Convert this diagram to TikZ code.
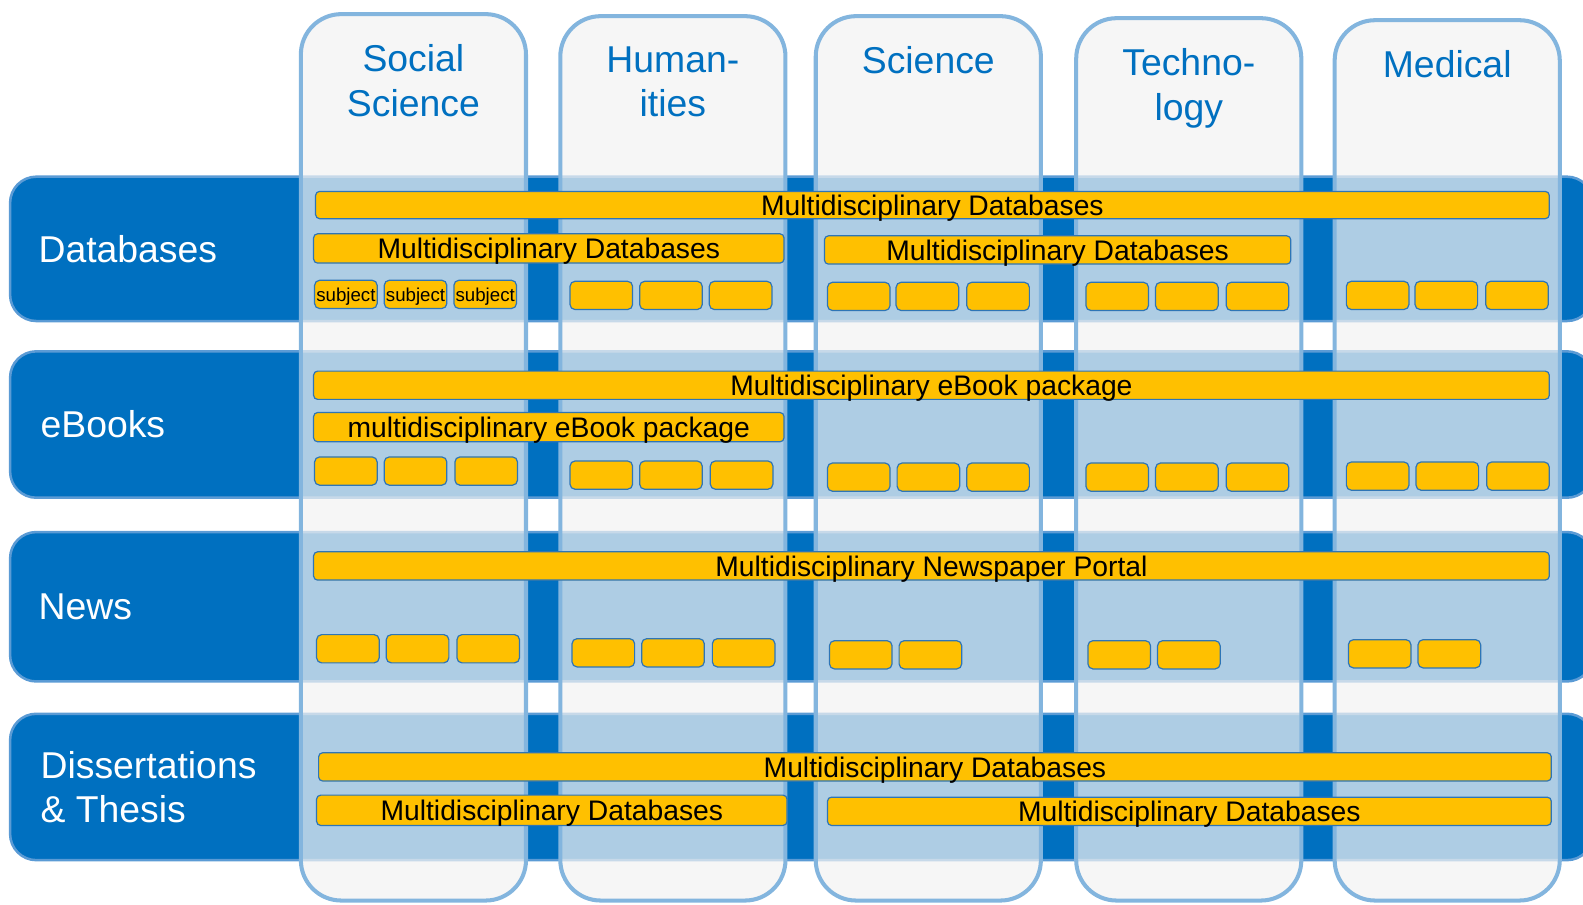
\documentclass[tikz,border=0pt]{standalone}
\usepackage{fontspec}
\setmainfont{Liberation Sans}
\definecolor{rowblue}{RGB}{0,112,192}
\definecolor{rowline}{RGB}{91,155,213}
\definecolor{colline}{RGB}{131,181,222}
\definecolor{colgray}{RGB}{242,242,242}
\definecolor{baryellow}{RGB}{255,192,0}
\definecolor{barline}{RGB}{46,117,182}
\usetikzlibrary{positioning}

\begin{document}
\begin{tikzpicture}[
x=1pt, y=-1pt,
node distance = 28pt,
    band/.style = {draw=rowline, line width=2.5pt, fill=rowblue,
                   rounded corners=26pt, anchor=north west,
                   minimum width=1568pt, minimum height=#1,
                   inner sep=0pt, outer sep=0pt},
  pillar/.style = {draw=colline, line width=4pt, fill=colgray,
                   fill opacity=0.72, draw opacity=1,
                   rounded corners=40pt, anchor=north west,
                   minimum width=223pt, minimum height=#1,
                   inner sep=0pt, outer sep=0pt},
rowlabel/.style = {text=white, font=\fontsize{37}{44}\selectfont,
                   align=left, inner sep=0pt},
collabel/.style = {text=rowblue, font=\fontsize{37}{44}\selectfont,
                   align=center, inner sep=0pt},
     bar/.style = {draw=barline, line width=1.2pt, fill=baryellow,
                   rounded corners=4pt, anchor=north west,
                   minimum width=#1, minimum height=28pt,
                   inner sep=0pt, text depth=0pt,
                   font=\fontsize{28}{32}\selectfont},
    cell/.style = {bar=62pt, rounded corners=5pt},
    subj/.style = {cell, font=\fontsize{18.5}{20}\selectfont}
                    ]
\clip (0,0) rectangle (1568,896);

\node[band=143pt] (dbrow)   at (10,175) {};
\node[band=145pt] (ebrow)   at (10,348) {};
\node[band=148pt] (newsrow) at (10,527) {};
\node[band=145pt] (disrow)  at (10,707) {};

\node[rowlabel, right=28pt of dbrow.west]   {Databases};
\node[rowlabel, right=30pt of ebrow.west]   {eBooks};
\node[rowlabel, right=28pt of newsrow.west] {News};
\node[rowlabel, right=30pt of disrow.west]  {Dissertations\\\& Thesis};

\node[pillar=878pt] (socsci) at (298,14)  {};
\node[pillar=876pt] (human)  at (555,16)  {};
\node[pillar=876pt] (sci)    at (808,16)  {};
\node[pillar=874pt] (tech)   at (1066,18) {};
\node[pillar=872pt] (med)    at (1322,20) {};

\node[collabel, below=30pt of socsci.north] {Social\\Science};
\node[collabel, below=30pt of human.north]  {Human-\\ities};
\node[collabel, below=30pt of sci.north]    {Science};
\node[collabel, below=30pt of tech.north]   {Techno-\\logy};
\node[collabel, below=30pt of med.north]    {Medical};

\node[bar=1222pt, minimum height=27pt] (dball) at (312,189) {Multidisciplinary Databases};
\node[bar=466pt, minimum height=29pt]  (dbleft) at (310,231) {Multidisciplinary Databases};
\node[bar=462pt] (dbright) at (816,233) {Multidisciplinary Databases};
\foreach \x [count=\i] in {311,380,449}
  \node[subj] (dbsubj\i) at (\x,277) {subject};
\foreach \x/\y [count=\i] in {564/278,633/278,702/278,819/279,887/279,957/279,
                              1075/279,1144/279,1214/279,1333/278,1401/278,1471/278}
  \node[cell] (dbcell\i) at (\x,\y) {};

\node[bar=1224pt] (eball) at (310,367) {Multidisciplinary eBook package};
\node[bar=466pt, minimum height=29pt] (ebleft) at (310,408) {multidisciplinary eBook package};
\foreach \x/\y [count=\i] in {311/452,380/452,450/452,564/456,633/456,703/456,
                              819/458,888/458,957/458,1075/458,1144/458,1214/458,
                              1333/457,1402/457,1472/457}
  \node[cell] (ebcell\i) at (\x,\y) {};

\node[bar=1224pt] (newsall) at (310,546) {Multidisciplinary Newspaper Portal};
\foreach \x/\y [count=\i] in {313/628,382/628,452/628,566/632,635/632,705/632,
                              821/634,890/634,1077/634,1146/634,1335/633,1404/633}
  \node[cell] (newscell\i) at (\x,\y) {};

\node[bar=1221pt] (disall) at (315,745) {Multidisciplinary Databases};
\node[bar=466pt, minimum height=30pt] (disleft) at (313,787) {Multidisciplinary Databases};
\node[bar=717pt] (disright) at (819,789) {Multidisciplinary Databases};
\end{tikzpicture}
\end{document}
